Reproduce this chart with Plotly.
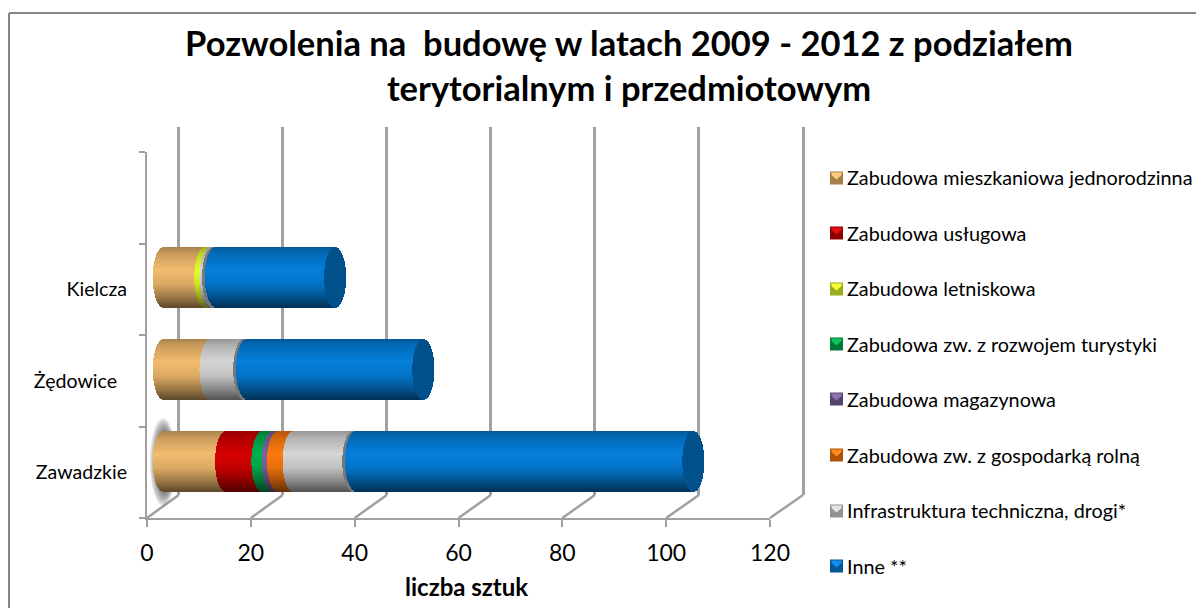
import math
import plotly.graph_objects as go

W, H = 1196, 608
FONT = "Lato"

# ---- data -------------------------------------------------------------
categories = ["Zawadzkie", "Żędowice\u00a0\u00a0", "Kielcza"]
series_names = ["Zabudowa mieszkaniowa jednorodzinna", "Zabudowa usługowa", "Zabudowa letniskowa",
                "Zabudowa zw. z rozwojem turystyki", "Zabudowa magazynowa",
                "Zabudowa zw. z gospodarką rolną", "Infrastruktura techniczna, drogi*", "Inne **"]
mieszkaniowa = [12, 9, 8]
uslugowa = [7, 0, 0]
letniskowa = [0, 0, 1]
turystyka = [2, 0, 0]
magazynowa = [1, 0, 0]
rolna = [3, 0, 0]
infrastruktura = [12, 7, 1]
inne = [65, 34, 23]
all_values = [mieszkaniowa, uslugowa, letniskowa, turystyka, magazynowa, rolna, infrastruktura, inne]
series_colors = [(243, 188, 110), (214, 0, 0), (228, 255, 40), (0, 178, 80),
                 (128, 100, 162), (255, 122, 14), (214, 214, 214), (4, 128, 220)]
tick_values = [0, 20, 40, 60, 80, 100, 120]

# ---- pixel geometry helpers ---------------------------------------------
def px(x): return x / W
def py(y): return 1 - y / H

GRID = "#a0a0a0"
FRONT_X0, FRONT_X1 = 147, 770
BACK_X0, BACK_X1 = 178.7, 803
FLOOR_Y, BACK_Y, TOP_Y = 518, 495, 127
BAR_X0 = 164
UNIT = (FRONT_X1 - FRONT_X0) / 120
BACK_UNIT = (BACK_X1 - BACK_X0) / 120
BAR_ROW0 = 461
ROW = 91.6
NB = 60
CAP = 11 / UNIT

def shade(rgb, t):
    # t runs 0 (top edge) .. 1 (bottom edge) of the cylinder
    stops = [(0, .70), (.12, .84), (.38, 1.0), (.62, .90), (.85, .62), (1, .40)]
    for (a, fa), (b, fb) in zip(stops, stops[1:]):
        if a <= t <= b:
            f = fa + (fb - fa) * (t - a) / (b - a)
            break
    return "rgb(%d,%d,%d)" % tuple(int(c * f) for c in rgb)

fig = go.Figure()

# wall subplot + legend entries
for name in series_names:
    fig.add_trace(go.Scatter(x=[None], y=[None], mode="markers", name=name, legendgroup=name,
                             marker=dict(color="rgba(0,0,0,0)", size=12), xaxis="x", yaxis="y",
                             hoverinfo="skip"))

# front axis subplot: fixes the category axis
totals = [sum(v[i] for v in all_values) for i in range(3)]
fig.add_trace(go.Scatter(x=totals, y=categories, mode="markers", xaxis="x2", yaxis="y2", showlegend=False,
                         marker=dict(opacity=0), hoverinfo="skip"))

# cylinders, built band by band from the series values
cum = [0, 0, 0]
for s, (name, vals, rgb) in enumerate(zip(series_names, all_values, series_colors)):
    ys, bases, xs, cols = [], [], [], []
    cap_y, cap_b, cap_x, cap_c = [], [], [], []
    for r, v in enumerate(vals):
        start = cum[r]
        cum[r] += v
        if v == 0:
            continue
        for i in range(NB):
            t = (i + .5) / NB
            d = CAP * math.sqrt(max(0, 1 - (2 * t - 1) ** 2))
            y = r + (NB / 2 - i - .5) / ROW
            if s == len(series_names) - 1:
                ys.append(y); bases.append(start - d - 2.6 / UNIT); xs.append(3 / UNIT)
                cols.append("rgb(120,120,120)")
            ys.append(y); bases.append(start - d); xs.append(v + d)
            cols.append(shade(rgb, t))
            if s == len(series_names) - 1:
                cap_y.append(y); cap_b.append(cum[r] - d); cap_x.append(2 * d); cap_c.append("#00508c")
    if ys:
        fig.add_trace(go.Bar(x=xs, base=bases, y=ys, orientation="h", width=1.1 / ROW, name=name,
                             legendgroup=name, showlegend=False, xaxis="x3", yaxis="y3",
                             marker=dict(color=cols, line=dict(width=0)), hoverinfo="skip"))
    if cap_y:
        fig.add_trace(go.Bar(x=cap_x, base=cap_b, y=cap_y, orientation="h", width=1.1 / ROW, name=name,
                             legendgroup=name, showlegend=False, xaxis="x3", yaxis="y3",
                             marker=dict(color=cap_c, line=dict(width=0)), hoverinfo="skip"))

# decorative shapes --------------------------------------------------------
shapes = [dict(type="line", xref="paper", yref="paper", x0=px(9), x1=1, y0=py(13), y1=py(13),
               line=dict(color="#868686", width=2), layer="below"),
          dict(type="line", xref="paper", yref="paper", x0=px(9), x1=px(9), y0=py(13), y1=0,
               line=dict(color="#868686", width=2), layer="below")]
for k, v in enumerate(tick_values):
    fx = FRONT_X0 + v * UNIT
    bx = BACK_X0 + v * BACK_UNIT
    shapes.append(dict(type="line", xref="paper", yref="paper", x0=px(fx), x1=px(bx), y0=py(FLOOR_Y), y1=py(BACK_Y),
                       line=dict(color=GRID, width=2.5), layer="below"))
for k in range(7):
    shapes.append(dict(type="circle", xref="paper", yref="paper", x0=px(150 + k), x1=px(176 - k * .5),
                       y0=py(506 - k * 2), y1=py(418 + k * 2), line=dict(width=0),
                       fillcolor="rgba(70,70,70,0.13)", layer="below"))
# legend swatches
sw_y = [178, 233, 289, 344, 399, 455, 511, 566]
for yc, rgb in zip(sw_y, series_colors):
    x0, x1, y0, y1 = 830, 843, yc - 6.5, yc + 6.5
    dark = "rgb(%d,%d,%d)" % tuple(int(c * .68) for c in rgb)
    light = "rgb(%d,%d,%d)" % tuple(min(255, int(c * 1.0 + 15)) for c in rgb)
    shapes.append(dict(type="rect", xref="paper", yref="paper", x0=px(x0), x1=px(x1), y0=py(y1), y1=py(y0),
                       fillcolor=dark, line=dict(width=0), layer="above"))
    path = "M %f %f L %f %f L %f %f L %f %f L %f %f Z" % (px(x0 + 1), py(y0 + 1), px(x1 - 1), py(y0 + 1),
                                                         px(x1 - 2), py(y0 + 4), px((x0 + x1) / 2), py(y0 + 8),
                                                         px(x0 + 2), py(y0 + 4))
    shapes.append(dict(type="path", xref="paper", yref="paper", path=path, fillcolor=light,
                       line=dict(width=0), layer="above"))

fig.update_layout(
    width=W, height=H, autosize=False, paper_bgcolor="white", plot_bgcolor="rgba(0,0,0,0)",
    margin=dict(l=0, r=0, t=0, b=0, autoexpand=False), barmode="overlay", bargap=0,
    font=dict(family=FONT, color="#000000", size=19.8),
    title=dict(text="Pozwolenia na  budowę w latach 2009 - 2012 z podziałem<br>terytorialnym i przedmiotowym",
               x=px(629), xanchor="center", y=py(56), yanchor="top", yref="paper",
               font=dict(family=FONT, size=34.5, weight=700, color="#000000")),
    showlegend=True,
    legend=dict(x=px(807), y=py(158), xanchor="left", yanchor="top", tracegroupgap=26.8, bgcolor="rgba(0,0,0,0)",
                font=dict(family=FONT, size=19.8, color="#000000"), itemwidth=30, traceorder="grouped"),
    shapes=shapes,
    annotations=[dict(text="liczba sztuk", xref="paper", yref="paper", x=px(466), y=py(586), showarrow=False,
                      xanchor="center", yanchor="middle", font=dict(family=FONT, size=24, weight=700))],
    xaxis=dict(domain=[px(BACK_X0), px(BACK_X1 + 3)], range=[0, 120 + 3 / BACK_UNIT], tick0=0, dtick=20, showgrid=True,
               gridcolor=GRID, gridwidth=2.5, zeroline=True, zerolinecolor=GRID, zerolinewidth=2.5,
               showticklabels=False, ticks="", anchor="y", showline=False),
    yaxis=dict(domain=[py(BACK_Y), py(TOP_Y)], range=[0, 1], showgrid=False, zeroline=False,
               showticklabels=False, ticks="", anchor="x", showline=False),
    xaxis2=dict(domain=[px(FRONT_X0), px(FRONT_X1)], range=[0, 120], tickvals=tick_values, showgrid=False,
                zeroline=False, ticks="outside", ticklen=7, tickwidth=2, tickcolor=GRID, showline=True,
                linecolor=GRID, linewidth=2, anchor="y2", tickfont=dict(family=FONT, size=23), ticklabelstandoff=6),
    yaxis2=dict(domain=[py(FLOOR_Y), py(152)], type="category", categoryorder="array",
                categoryarray=categories + ["\u00a0"], tickvals=categories + ["\u00a0"], range=[-.5, 3.5],
                tickson="boundaries", ticks="outside", ticklen=6, tickwidth=2, tickcolor=GRID, showline=True,
                linecolor=GRID, linewidth=2, showgrid=False, zeroline=False, anchor="x2",
                tickfont=dict(family=FONT, size=19.6), ticklabelstandoff=14),
    xaxis3=dict(domain=[px(BAR_X0 - 4 * UNIT), px(BAR_X0 + 120 * UNIT)], range=[-4, 120], visible=False, anchor="y3"),
    yaxis3=dict(domain=[py(520), py(120)], range=[(BAR_ROW0 - 520) / ROW, (BAR_ROW0 - 120) / ROW],
                visible=False, anchor="x3"),
)

fig.write_html("out.html", config={"displayModeBar": False},
               post_script="document.body.style.margin='0';document.body.style.overflow='hidden';")
